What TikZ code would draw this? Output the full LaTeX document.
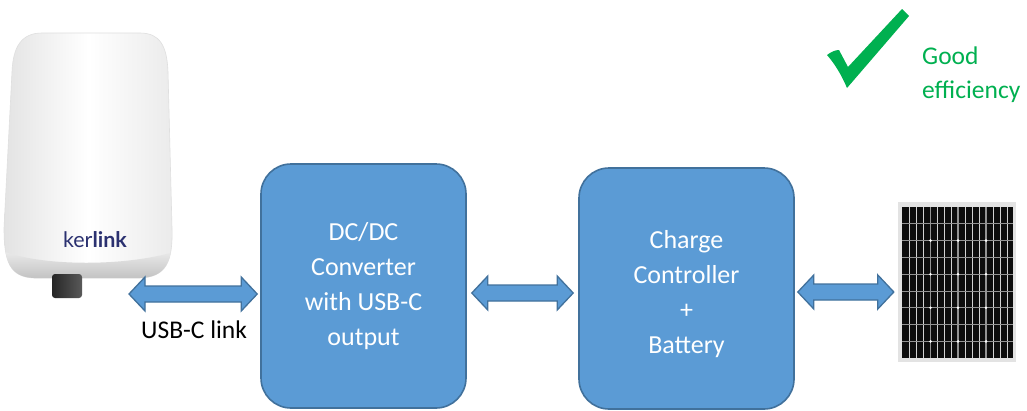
\documentclass[tikz,border=0pt]{standalone}
\usepackage{fontspec}
\setmainfont{Carlito}
\newfontfamily\logofont{Lato}
\usetikzlibrary{calc}
\definecolor{boxfill}{HTML}{5B9BD5}
\definecolor{boxline}{HTML}{41719C}
\definecolor{okgreen}{HTML}{00B050}
\definecolor{logoblue}{HTML}{2B3170}
\tikzset{
  stagebox/.style={draw=boxline, line width=1.6pt, fill=boxfill, rounded corners=30pt,
    text=white, align=center, inner sep=0pt, font=\fontsize{26}{35}\selectfont},
  arr/.style={draw=boxline, line width=1.3pt, fill=boxfill, line join=miter},
  lbl/.style={inner sep=0pt, font=\fontsize{25.5}{34}\selectfont},
}
\newcommand\blockarrow[2]{\draw[arr] (#1) -- ++(16,-17) -- ++(0,9) -- ($(#2)+(-16,-8)$) -- ++(0,-9) -- (#2) -- ++(-16,17) -- ++(0,-9) -- ($(#1)+(16,8)$) -- ++(0,9) -- cycle;}
\begin{document}
\begin{tikzpicture}[x=1pt,y=-1pt]
\useasboundingbox (0,0) rectangle (1027,410);
\fill[white] (0,0) rectangle (1027,410);

% ---- Kerlink device ----
\coordinate (dev) at (88,155);
\path[draw=gray!25, line width=0.6pt, left color=gray!22, right color=gray!16, middle color=white]
  (42,33) -- (140,33) .. controls (160,33) and (167,46) .. (168,72)
  -- (172,228) .. controls (173,262) and (166,277) .. (140,278)
  -- (34,278) .. controls (10,277) and (4,262) .. (4,228)
  -- (12,72) .. controls (13,46) and (22,33) .. (42,33) -- cycle;
\begin{scope}
  \clip (42,33) -- (140,33) .. controls (160,33) and (167,46) .. (168,72)
  -- (172,228) .. controls (173,262) and (166,277) .. (140,278)
  -- (34,278) .. controls (10,277) and (4,262) .. (4,228)
  -- (12,72) .. controls (13,46) and (22,33) .. (42,33) -- cycle;
  \shade[top color=gray!15, bottom color=gray!55]
    (0,250) .. controls (40,267) and (130,267) .. (180,250) -- (180,285) -- (0,285) -- cycle;
\end{scope}
\shade[left color=black!85, right color=black!65, rounded corners=3pt]
  (52,274) -- (82,274) -- (82,298) -- (52,298) -- cycle;
\node[inner sep=0pt, text=logoblue, font=\logofont\fontsize{21.5}{24}\selectfont] (logo) at (95,240) {ker\textbf{link}};

% ---- green check ----
\fill[okgreen] (827,55) .. controls (831,52) and (835,50) .. (839,50) -- (848,67)
  -- (902,9) -- (909,16) -- (847,88) .. controls (842,76) and (835,64) .. (827,55) -- cycle;
\node[lbl, text=okgreen, align=left, anchor=west] (eff) at (922,75) {Good\\efficiency};

% ---- boxes ----
\node[stagebox, minimum width=205pt, minimum height=244pt] (box1) at (363.5,286)
  {DC/DC\\Converter\\with USB-C\\output};
\node[stagebox, minimum width=215pt, minimum height=241pt] (box2) at (686.5,288.5)
  {\rule{0pt}{29pt}Charge\\Controller\\+\\Battery};

% ---- solar panel ----
\node[fill=gray!22, minimum width=118pt, minimum height=160pt, inner sep=0pt] (panel) at (957,282) {};
\fill[black!95] (902,207) rectangle (1013,358);
\foreach \x in {909,916,923,937,944,951,965,972,979,993,1000,1007}
  \draw[gray!35, line width=0.25pt] (\x,207) -- (\x,358);
\foreach \k in {1,...,8}
  \draw[gray!85, line width=1pt] (902,{207+\k*16.8}) -- (1013,{207+\k*16.8});
\foreach \x in {930.5,958,986}
  \draw[gray!85, line width=1.1pt] (\x,207) -- (\x,358);
\foreach \x in {930.5,958,986}
  \foreach \y in {240.6,274.2,307.8,341.4}
    \fill[white] (\x,\y) circle (1.4pt);

% ---- connectors ----
\coordinate (a1L) at (129,294);
\coordinate (a1R) at ($(box1.west)+(-3,8)$);
\coordinate (a2L) at ($(box1.east)+(5,7)$);
\coordinate (a2R) at ($(box2.west)+(-5,4.5)$);
\coordinate (a3L) at ($(box2.east)+(3,3.5)$);
\coordinate (a3R) at ($(panel.west)+(-4,10)$);
\blockarrow{a1L}{a1R}
\blockarrow{a2L}{a2R}
\blockarrow{a3L}{a3R}
\node[lbl, anchor=base] (usb) at ($(a1L)!0.5!(a1R)+(1,44)$) {USB-C link};
\end{tikzpicture}
\end{document}
